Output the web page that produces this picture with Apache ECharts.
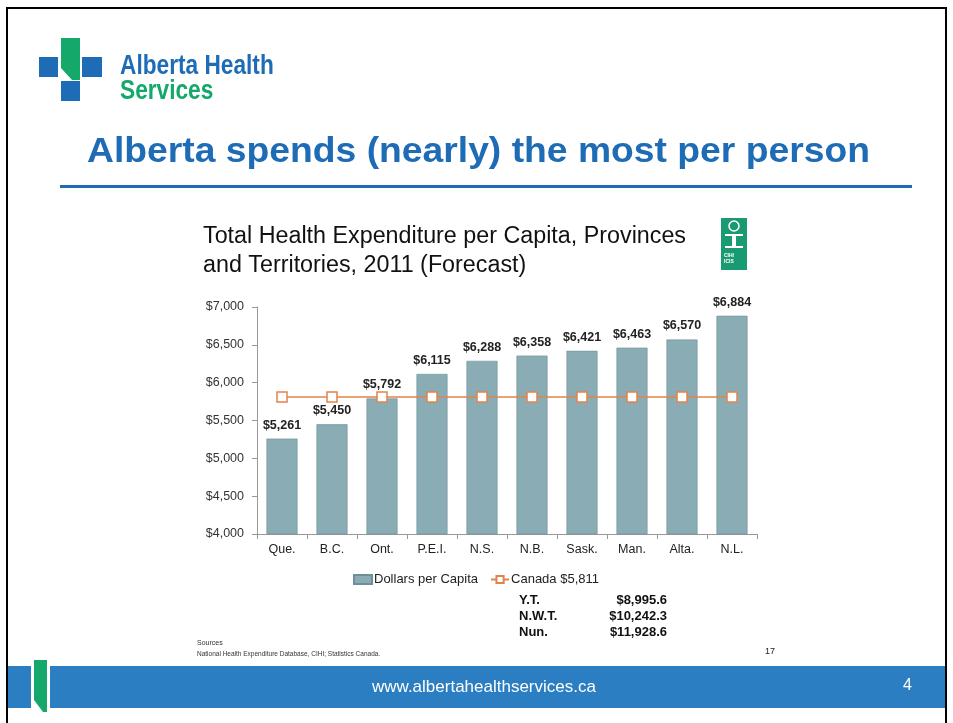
<!DOCTYPE html>
<html><head><meta charset="utf-8">
<script src="https://cdn.jsdelivr.net/npm/echarts@6/dist/echarts.min.js"></script>
<style>html,body{margin:0;padding:0;background:#fff}#c{width:953px;height:723px}</style>
</head><body><div id="c"></div>
<script>
const categories = ['Que.','B.C.','Ont.','P.E.I.','N.S.','N.B.','Sask.','Man.','Alta.','N.L.'];
const dollarsPerCapita = [5261,5450,5792,6115,6288,6358,6421,6463,6570,6884];
const canadaAverage = [5811,5811,5811,5811,5811,5811,5811,5811,5811,5811];
const territories = ['Y.T.','N.W.T.','Nun.'];
const territoryValues = ['$8,995.6','$10,242.3','$11,928.6'];

const fmt = v => '$' + v.toLocaleString('en-US');
const chart = echarts.init(document.getElementById('c'));
const blue = '#1d6cb5', green = '#14a86b', barCol = '#8aacb4', orange = '#e2844a';
const terrText = [];
territories.forEach((t,i)=>{
  terrText.push({type:'text',left:519,top:594+i*16,style:{text:t,font:'bold 13px Arial, Liberation Sans',fill:'#111'}});
  terrText.push({type:'text',right:953-667,top:594+i*16,style:{text:territoryValues[i],font:'bold 13px Arial, Liberation Sans',fill:'#111',textAlign:'right'}});
});
chart.setOption({
  animation:false,
  textStyle:{fontFamily:'Arial, Liberation Sans'},
  grid:{left:257,right:196,top:307,bottom:189},
  legend:{top:568,left:348,itemGap:12,itemWidth:18,itemHeight:9,
    textStyle:{fontSize:13,color:'#222',padding:[0,0,0,-3]},
    data:[{name:'Dollars per Capita',icon:'rect'},{name:'Canada $5,811'}]},
  xAxis:{type:'category',data:categories,
    axisLine:{lineStyle:{color:'#999'}},
    axisTick:{show:true,alignWithLabel:false,length:5,lineStyle:{color:'#999'}},
    axisLabel:{color:'#222',fontSize:12.5,margin:9}},
  yAxis:{type:'value',min:4000,max:7000,interval:500,
    axisLine:{show:true,lineStyle:{color:'#999'}},
    axisTick:{show:true,length:5,lineStyle:{color:'#999'}},
    splitLine:{show:false},
    axisLabel:{color:'#333',fontSize:12.5,margin:13,formatter:fmt}},
  series:[
    {name:'Dollars per Capita',type:'bar',data:dollarsPerCapita,barWidth:31,
     itemStyle:{color:barCol,borderColor:'#6f8f98',borderWidth:0.6},
     label:{show:true,position:'top',distance:7,formatter:p=>fmt(p.value),fontWeight:'bold',fontSize:12.5,color:'#222'}},
    {name:'Canada $5,811',type:'line',data:canadaAverage,symbol:'rect',symbolSize:10,
     lineStyle:{color:orange,width:1.5},
     itemStyle:{color:'#fff',borderColor:orange,borderWidth:1.5},z:5}
  ],
  graphic:[
    {type:'rect',shape:{x:7,y:8,width:939,height:730},style:{fill:'none',stroke:'#000',lineWidth:2},z:0},
    // logo
    {type:'rect',shape:{x:39,y:57,width:19,height:20},style:{fill:blue}},
    {type:'polygon',shape:{points:[[61,38],[80,38],[80,80],[72,80],[61,68]]},style:{fill:green}},
    {type:'rect',shape:{x:82,y:57,width:20,height:20},style:{fill:blue}},
    {type:'rect',shape:{x:61,y:81,width:19,height:20},style:{fill:blue}},
    {type:'text',x:120,y:53,scaleX:0.84,style:{text:'Alberta Health',font:'bold 27px Arial, Liberation Sans',fill:blue}},
    {type:'text',x:120,y:78,scaleX:0.84,style:{text:'Services',font:'bold 27px Arial, Liberation Sans',fill:green}},
    // title
    {type:'text',x:87,y:134,scaleX:1.05,style:{text:'Alberta spends (nearly) the most per person',font:'bold 35.5px Arial, Liberation Sans',fill:blue}},
    {type:'rect',shape:{x:60,y:185,width:852,height:3},style:{fill:blue}},
    // chart title
    {type:'text',left:203,top:222,style:{text:'Total Health Expenditure per Capita, Provinces\nand Territories, 2011 (Forecast)',font:'23.3px Arial, Liberation Sans',lineHeight:29,fill:'#111'}},
    // CIHI logo
    {type:'rect',shape:{x:721,y:218,width:26,height:52},style:{fill:'#1a9a72'}},
    {type:'circle',shape:{cx:734,cy:226,r:5},style:{fill:'none',stroke:'#fff',lineWidth:1.5}},
    {type:'rect',shape:{x:725,y:234,width:18,height:2},style:{fill:'#fff'}},
    {type:'rect',shape:{x:732,y:236,width:4,height:10},style:{fill:'#fff'}},
    {type:'rect',shape:{x:725,y:246,width:18,height:2},style:{fill:'#fff'}},
    {type:'text',left:724,top:253,style:{text:'CIHI\nICIS',font:'bold 5px Arial',lineHeight:6,fill:'#fff'}},
    ...terrText,
    {type:'text',left:197,top:640,style:{text:'Sources',font:'7px Arial',fill:'#333'}},
    {type:'text',left:197,top:651,style:{text:'National Health Expenditure Database, CIHI; Statistics Canada.',font:'6.5px Arial',fill:'#333'}},
    {type:'text',left:765,top:647,style:{text:'17',font:'9px Arial',fill:'#222'}},
    // footer
    {type:'rect',shape:{x:8,y:666,width:937,height:42},style:{fill:'#2a7ec1'}},
    {type:'rect',shape:{x:31,y:657,width:19,height:60},style:{fill:'#fff'}},
    {type:'polygon',shape:{points:[[34,660],[47,660],[47,712],[43,712],[34,700]]},style:{fill:green}},
    {type:'text',left:372,top:679,style:{text:'www.albertahealthservices.ca',font:'17px Arial, Liberation Sans',fill:'#fff'}},
    {type:'text',left:903,top:678,style:{text:'4',font:'16px Arial, Liberation Sans',fill:'#fff'}}
  ]
});
</script></body></html>
